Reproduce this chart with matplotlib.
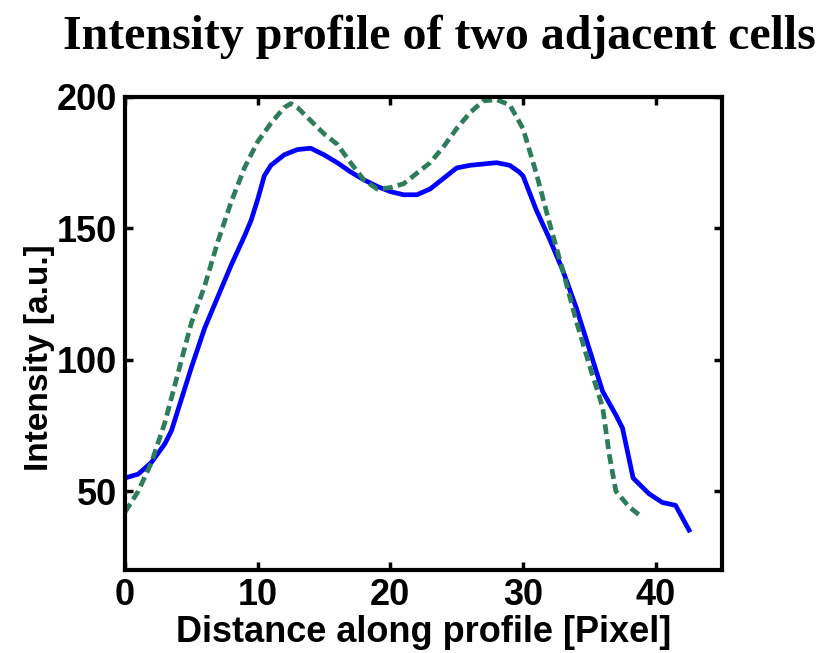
import matplotlib
matplotlib.use("Agg")
import matplotlib.pyplot as plt

# Blue solid profile (cell 1)
x_blue = [0, 1, 2, 3, 3.5, 4, 5, 6, 7, 8, 9, 9.5, 10, 10.5, 11, 12, 13, 14, 15, 16, 17,
          18, 19, 20, 21, 22, 23, 24, 25, 26, 27, 28, 29, 29.7, 30, 31, 32, 33, 34, 35,
          36, 37, 37.5, 38.3, 39.5, 40.5, 41.5, 42.6]
y_blue = [55, 56.5, 61, 68, 73, 81, 97, 112, 124, 136, 147, 153, 161, 170, 174, 178, 180,
          180.5, 178, 175, 171.5, 168.5, 166, 164, 162.8, 162.8, 165, 169, 173, 174, 174.5,
          175, 174, 171.5, 170, 157, 146, 134, 120, 104, 88, 79, 74, 55, 49, 45.7, 44.6, 34.4]

# Green dashed profile (cell 2)
x_green = [0, 1, 2, 3, 4, 5, 6, 7, 8, 9, 10, 11, 12, 12.5, 13, 14, 15, 16, 17, 18, 19, 20,
           21, 22, 23, 24, 25, 26, 27, 28, 29, 30, 31, 32, 33, 34, 35, 36, 36.5, 37, 38, 39]
y_green = [42, 50, 61, 76, 95, 114, 128, 145, 160, 173, 183, 190, 196, 197.5, 196, 191, 186,
           182, 175, 168.5, 165, 165.5, 167, 171, 175, 181, 188, 194, 198.5, 199, 197, 188,
           171, 152, 134, 115, 98, 82, 64, 50, 44, 40]

x_ticks = [0, 10, 20, 30, 40]
y_ticks = [50, 100, 150, 200]

title = "Intensity profile of two adjacent cells"
xlabel = "Distance along profile [Pixel]"
ylabel = "Intensity [a.u.]"

sans = ["Liberation Sans Narrow", "Liberation Sans", "DejaVu Sans"]
serif = ["Liberation Serif", "DejaVu Serif"]

fig = plt.figure(figsize=(8.26, 6.53), dpi=100)
ax = fig.add_axes([125/826, 1-570/653, (722-125)/826, (570-97)/653])

ax.plot(x_blue, y_blue, color="#0000FF", lw=3.4, solid_joinstyle="round",
        solid_capstyle="butt")
ax.plot(x_green, y_green, color="#2E7D5A", lw=3.4, ls=(0, (2.1, 1.1)))

ax.set_xlim(0, 45)
ax.set_ylim(20, 200)
ax.set_xticks(x_ticks)
ax.set_yticks(y_ticks)
ax.tick_params(direction="in", length=6, width=2.5, top=True, right=True,
               labelsize=26, pad=6)
for lab in ax.get_xticklabels() + ax.get_yticklabels():
    lab.set_family(sans)
    lab.set_fontweight("bold")
for s in ax.spines.values():
    s.set_linewidth(3)

ax.set_xlabel(xlabel, fontsize=26, fontweight="bold", family=sans, labelpad=1)
fig.text(40/826, 1-358/653, ylabel, rotation=90, ha="center", va="center",
         fontsize=24, fontweight="bold", family=sans)

fig.text(439/826, 1-37/653, title, ha="center", va="center", fontsize=34.5,
         fontweight="bold", family=serif)

fig.savefig("out.png", dpi=100)
